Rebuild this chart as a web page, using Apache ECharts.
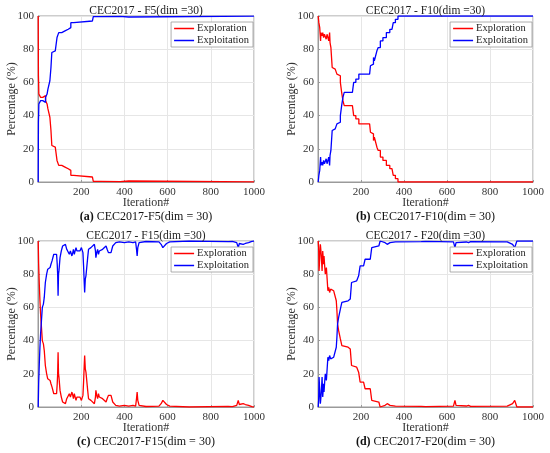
<!DOCTYPE html>
<html>
<head>
<meta charset="utf-8">
<script src="https://cdn.jsdelivr.net/npm/echarts@6/dist/echarts.min.js"></script>
<style>
  html, body { margin: 0; padding: 0; background: #fff; }
  #main { width: 550px; height: 453px; }
</style>
</head>
<body>
<div id="main"></div>
<script>
// F5: staircase
var f5Iter    = [1, 2, 3, 4, 6, 12, 22, 30, 35, 42, 46, 55, 60, 64, 68, 80, 88, 96, 110, 125, 140, 152, 165, 252, 256, 290, 380, 420, 1000];
var f5Exploit = [0, 36, 41, 47, 48, 49, 50, 48, 51, 53, 56, 61, 69, 78, 79, 80, 87, 90, 91, 92, 93, 96, 97, 98, 99.6, 99.8, 99.4, 99.9, 100];
var f5Explore = [100, 64, 59, 53, 52, 51, 50, 52, 49, 47, 44, 39, 31, 22, 21, 20, 13, 10, 9, 8, 7, 4, 3, 2, 0.4, 0.2, 0.6, 0.1, 0];

// F10
var f10Iter    = [1, 4, 8, 12, 14, 18, 22, 26, 30, 34, 38, 42, 46, 50, 54, 56, 60, 66, 72, 80, 88, 96, 104, 110, 116, 122, 160, 166, 176, 190, 240, 244, 252, 258, 262, 266, 274, 280, 290, 302, 318, 334, 344, 350, 360, 372, 1000];
var f10Exploit = [0, 4, 7, 15, 10, 12, 10, 13, 11, 12, 14, 11, 13, 15, 10, 16, 19, 31, 32, 33, 35, 36, 40, 46, 51, 54, 55, 60, 62, 65, 66, 70, 71, 75, 73, 75, 79, 81, 85, 87, 90, 92, 93, 96, 98, 100, 100];
var f10Explore = [100, 96, 93, 85, 90, 88, 90, 87, 89, 88, 86, 89, 87, 85, 90, 84, 81, 69, 68, 67, 65, 64, 60, 54, 49, 46, 45, 40, 38, 35, 34, 30, 29, 25, 27, 25, 21, 19, 15, 13, 10, 8, 7, 4, 2, 0, 0];

// F15
var f15Iter    = [1, 3, 6, 9, 12, 16, 20, 25, 29, 34, 40, 45, 49, 56, 60, 65, 68, 73, 80, 86, 89, 91, 93, 95, 97, 99, 102, 108, 114, 120, 127, 133, 139, 145, 150, 153, 157, 161, 164, 168, 172, 176, 180, 184, 188, 194, 198, 201, 205, 208, 211, 214, 216, 219, 222, 226, 230, 234, 238, 245, 253, 261, 266, 268, 272, 276, 280, 284, 290, 299, 305, 315, 320, 326, 332, 338, 346, 360, 377, 400, 420, 440, 452, 456, 459, 462, 468, 500, 560, 570, 578, 585, 595, 610, 700, 880, 900, 920, 927, 932, 950, 960, 975, 990, 1000];
var f15Exploit = [0, 14, 26, 36, 44, 52, 60, 62, 66, 75, 80, 83, 84, 84, 86, 88, 89, 92, 93, 92, 86, 80, 67, 80, 82, 83, 90, 94, 97, 98, 98, 95, 94, 92, 94, 95, 91, 93, 95, 92, 94, 96, 94, 93, 95, 94, 93, 96, 95, 93, 85, 75, 69, 77, 79, 78, 90, 95, 96, 96, 97, 98, 94, 90, 93, 95, 92, 94, 95, 95, 96, 97, 95, 93, 92, 93, 97, 99, 99.5, 99, 99.5, 99, 99.5, 95, 91, 96, 99, 99.7, 99.5, 98, 96, 97, 98.5, 99.5, 100, 99.6, 99.8, 99, 96, 98.5, 98, 98.5, 99, 99.8, 100];
var f15Explore = [100, 86, 74, 64, 56, 48, 40, 38, 34, 25, 20, 17, 16, 16, 14, 12, 11, 8, 7, 8, 14, 20, 33, 20, 18, 17, 10, 6, 3, 2, 2, 5, 6, 8, 6, 5, 9, 7, 5, 8, 6, 4, 6, 7, 5, 6, 7, 4, 5, 7, 15, 25, 31, 23, 21, 22, 10, 5, 4, 4, 3, 2, 6, 10, 7, 5, 8, 6, 5, 5, 4, 3, 5, 7, 8, 7, 3, 1, 0.5, 1, 0.5, 1, 0.5, 5, 9, 4, 1, 0.3, 0.5, 2, 4, 3, 1.5, 0.5, 0, 0.4, 0.2, 1, 4, 1.5, 2, 1.5, 1, 0.2, 0];

// F20
var f20Iter    = [1, 3, 5, 8, 11, 15, 19, 22, 26, 28, 31, 34, 39, 42, 46, 50, 54, 59, 65, 73, 80, 85, 88, 91, 96, 104, 111, 140, 150, 156, 180, 189, 196, 212, 219, 243, 250, 283, 289, 312, 322, 328, 335, 360, 480, 500, 630, 637, 642, 690, 700, 710, 880, 905, 915, 920, 925, 1000];
var f20Exploit = [0, 4, 18, 10, 2, 8, 18, 6, 14, 9, 15, 20, 16, 22, 30, 28, 31, 29, 30, 30, 30, 36, 42, 50, 54, 59, 63, 64, 65, 75, 76, 79, 85, 85, 89, 89, 96, 97, 100, 99, 98, 97, 99, 99.5, 99.6, 99.8, 99.5, 96, 99, 99.4, 99, 99.6, 99.5, 98, 96, 98, 100, 100];
var f20Explore = [100, 96, 82, 90, 98, 92, 82, 94, 86, 91, 85, 80, 84, 78, 70, 72, 69, 71, 70, 70, 70, 64, 58, 50, 46, 41, 37, 36, 35, 25, 24, 21, 15, 15, 11, 11, 4, 3, 0, 1, 2, 3, 1, 0.5, 0.4, 0.2, 0.5, 4, 1, 0.6, 1, 0.4, 0.5, 2, 4, 2, 0, 0];

var xTicks = [0, 200, 400, 600, 800, 1000];
var yTicks = [0, 20, 40, 60, 80, 100];

var panelTitles = ['CEC2017 - F5(dim =30)', 'CEC2017 - F10(dim =30)', 'CEC2017 - F15(dim =30)', 'CEC2017 - F20(dim =30)'];
var panelCaps = [['(a)', ' CEC2017-F5(dim = 30)'], ['(b)', ' CEC2017-F10(dim = 30)'], ['(c)', ' CEC2017-F15(dim = 30)'], ['(d)', ' CEC2017-F20(dim = 30)']];

var seriesNames = ['Exploration', 'Exploitation'];

function zip(xs, ys) {
    var out = [];
    for (var i = 0; i < xs.length; i++) {
        out.push([xs[i], ys[i]]);
    }
    return out;
}

var dom = document.getElementById('main');
var myChart = echarts.init(dom, null, { renderer: 'canvas' });

var FONT = 'Liberation Serif';

// plot boxes [left, top, width, height]
var boxes = [
    [38, 16, 216, 166],
    [318, 16, 215, 166],
    [38, 241, 216, 166],
    [318, 241, 215, 166]
];

var panels = [
    { iter: f5Iter, explore: f5Explore, exploit: f5Exploit, step: 'end' },
    { iter: f10Iter, explore: f10Explore, exploit: f10Exploit, step: 'end' },
    { iter: f15Iter, explore: f15Explore, exploit: f15Exploit, step: false },
    { iter: f20Iter, explore: f20Explore, exploit: f20Exploit, step: false }
];

var grid = [], xAxis = [], yAxis = [], series = [], title = [], legend = [];

for (var k = 0; k < 4; k++) {
    var b = boxes[k];
    grid.push({
        left: b[0], top: b[1], width: b[2], height: b[3],
        show: true, borderColor: '#9a9a9a', borderWidth: 1, backgroundColor: 'transparent'
    });
    xAxis.push({
        type: 'value', gridIndex: k, min: xTicks[0], max: xTicks[xTicks.length - 1],
        interval: xTicks[1] - xTicks[0],
        name: 'Iteration#', nameLocation: 'middle', nameGap: 15, nameMoveOverlap: false,
        nameTextStyle: { fontFamily: FONT, fontSize: 12, color: '#333' },
        axisLine: { show: true, lineStyle: { color: '#9a9a9a', width: 1 } },
        axisTick: { show: true, inside: true, length: 2, lineStyle: { color: '#9a9a9a' } },
        axisLabel: {
            margin: 5, fontFamily: FONT, fontSize: 11, color: '#333',
            formatter: function (v) { return v === 0 ? '' : String(v); }
        },
        splitLine: { show: true, lineStyle: { color: '#e6e6e6', width: 1 } }
    });
    yAxis.push({
        type: 'value', gridIndex: k, min: yTicks[0], max: yTicks[yTicks.length - 1],
        interval: yTicks[1] - yTicks[0],
        name: 'Percentage (%)', nameLocation: 'middle', nameGap: 20, nameMoveOverlap: false,
        nameTextStyle: { fontFamily: FONT, fontSize: 12, color: '#333' },
        axisLine: { show: true, lineStyle: { color: '#9a9a9a', width: 1 } },
        axisTick: { show: true, inside: true, length: 2, lineStyle: { color: '#9a9a9a' } },
        axisLabel: { margin: 4, fontFamily: FONT, fontSize: 11, color: '#333' },
        splitLine: { show: true, lineStyle: { color: '#e6e6e6', width: 1 } }
    });
    var p = panels[k];
    series.push({
        name: seriesNames[0], type: 'line', xAxisIndex: k, yAxisIndex: k,
        data: zip(p.iter, p.explore), step: p.step, showSymbol: false, symbol: 'none',
        lineStyle: { color: '#ff0000', width: 1.3 }, itemStyle: { color: '#ff0000' }, z: 3
    });
    series.push({
        name: seriesNames[1], type: 'line', xAxisIndex: k, yAxisIndex: k,
        data: zip(p.iter, p.exploit), step: p.step, showSymbol: false, symbol: 'none',
        lineStyle: { color: '#0000ff', width: 1.3 }, itemStyle: { color: '#0000ff' }, z: 3
    });

    var cx = b[0] + b[2] / 2;
    title.push({
        text: panelTitles[k], left: cx, top: b[1] - 11, textAlign: 'center',
        textStyle: { fontFamily: FONT, fontSize: 11.5, fontWeight: 'normal', color: '#222' },
        padding: 0
    });
    title.push({
        text: '{b|' + panelCaps[k][0] + '}{n|' + panelCaps[k][1] + '}',
        left: cx, top: b[1] + b[3] + 29, textAlign: 'center', padding: 0,
        textStyle: {
            fontWeight: 'normal',
            rich: {
                b: { fontFamily: FONT, fontSize: 12, fontWeight: 'bold', color: '#111' },
                n: { fontFamily: FONT, fontSize: 12, fontWeight: 'normal', color: '#111' }
            }
        }
    });
    legend.push({
        data: seriesNames, orient: 'vertical',
        right: 550 - (b[0] + b[2]) + 1, top: b[1] + 6,
        icon: 'rect', itemWidth: 20, itemHeight: 1.5, itemGap: 1,
        padding: [1, 4, 1, 3],
        backgroundColor: '#fff', borderColor: '#9a9a9a', borderWidth: 0.8,
        selectedMode: false,
        textStyle: { fontFamily: FONT, fontSize: 10.5, color: '#222', padding: [0, 0, 0, -2] }
    });
}

var option = {
    backgroundColor: '#fff',
    animation: false,
    title: title,
    legend: legend,
    grid: grid,
    xAxis: xAxis,
    yAxis: yAxis,
    series: series
};

if (option && typeof option === 'object') {
    myChart.setOption(option, true);
}
</script>
</body>
</html>
